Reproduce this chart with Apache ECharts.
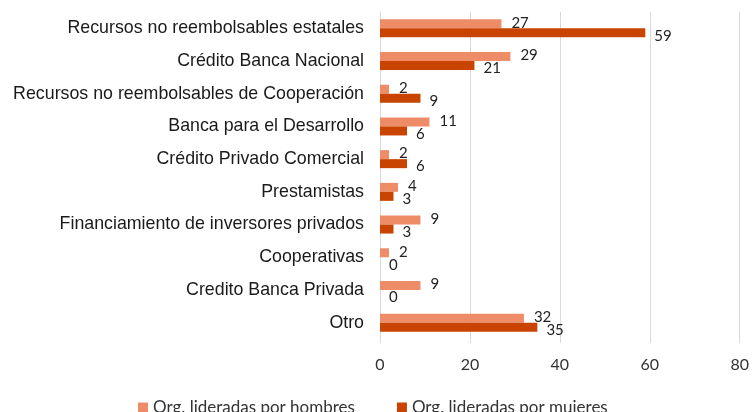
<!DOCTYPE html>
<html>
<head>
<meta charset="utf-8">
<script src="https://cdn.jsdelivr.net/npm/echarts@6/dist/echarts.min.js"></script>
<style>
  html, body { margin: 0; padding: 0; background: #fff; }
  #chart { width: 752px; height: 412px; }
</style>
</head>
<body>
<div id="chart"></div>
<script>
var categories = [
  'Recursos no reembolsables estatales',
  'Crédito Banca Nacional',
  'Recursos no reembolsables de Cooperación',
  'Banca para el Desarrollo',
  'Crédito Privado Comercial',
  'Prestamistas',
  'Financiamiento de inversores privados',
  'Cooperativas',
  'Credito Banca Privada',
  'Otro'
]
var hombres = [27, 29, 2, 11, 2, 4, 9, 2, 9, 32]
var mujeres = [59, 21, 9, 6, 6, 3, 3, 0, 0, 35]
var seriesNames = ['Org. lideradas por hombres', 'Org. lideradas por mujeres']
var xTicks = [0, 20, 40, 60, 80]

var chart = echarts.init(document.getElementById('chart'))
var numFont = 'Lato, "Open Sans", sans-serif'

var option = {
  animation: false,
  grid: {
    left: 380,
    right: 10,
    top: 12,
    bottom: 73
  },
  legend: {
    data: seriesNames,
    left: 133,
    top: 394,
    icon: 'rect',
    itemWidth: 10,
    itemHeight: 10,
    itemGap: 42,
    textStyle: {
      fontFamily: numFont,
      fontSize: 17,
      color: '#333'
    }
  },
  xAxis: {
    type: 'value',
    min: xTicks[0],
    max: xTicks[xTicks.length - 1],
    interval: 20,
    axisLine: { show: false },
    axisTick: {
      show: true,
      length: 4,
      lineStyle: { color: '#d9d9d9' }
    },
    splitLine: {
      show: true,
      lineStyle: { color: '#d9d9d9', width: 1 }
    },
    axisLabel: {
      margin: 18,
      fontFamily: numFont,
      fontSize: 16,
      color: '#333'
    }
  },
  yAxis: {
    type: 'category',
    inverse: true,
    data: categories,
    axisTick: { show: false },
    axisLine: {
      lineStyle: { color: '#d9d9d9', width: 1 }
    },
    axisLabel: {
      margin: 16,
      fontFamily: '"Liberation Sans", Arial, sans-serif',
      fontSize: 17.8,
      color: '#1a1a1a'
    }
  },
  series: [
    {
      name: seriesNames[0],
      type: 'bar',
      data: hombres,
      barWidth: 9,
      barGap: '0%',
      itemStyle: { color: '#ee8c68' },
      label: {
        show: true,
        position: 'right',
        distance: 10,
        offset: [0, -1],
        fontFamily: numFont,
        fontSize: 15,
        color: '#222'
      }
    },
    {
      name: seriesNames[1],
      type: 'bar',
      data: mujeres,
      barWidth: 9,
      itemStyle: { color: '#c84400' },
      label: {
        show: true,
        position: 'right',
        distance: 9,
        offset: [0, 3],
        fontFamily: numFont,
        fontSize: 15,
        color: '#222'
      }
    }
  ]
}
chart.setOption(option)
</script>
</body>
</html>
